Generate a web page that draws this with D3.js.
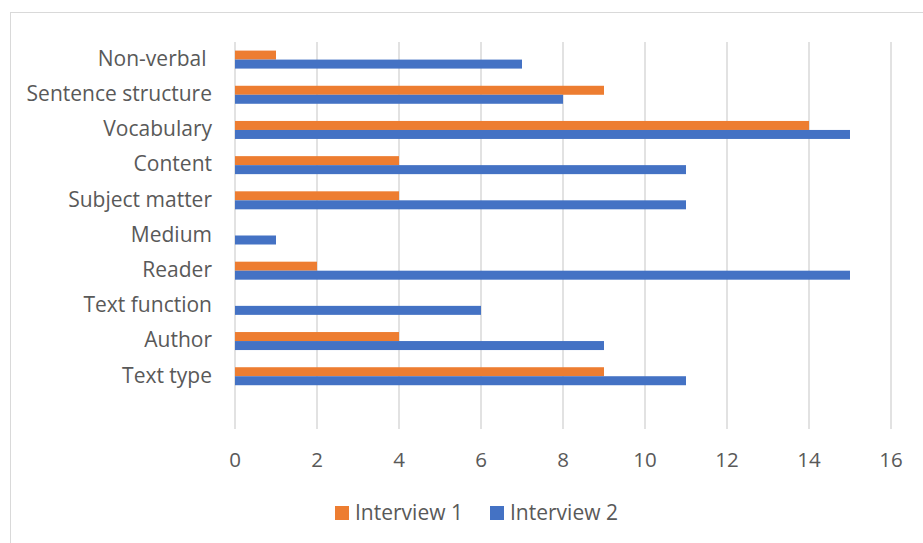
<!DOCTYPE html>
<html>
<head>
<meta charset="utf-8">
<script src="https://cdn.jsdelivr.net/npm/d3@7"></script>
<style>
  body { margin:0; background:#fff; }
  text { font-family: "Open Sans", Lato, sans-serif; fill:#595959; }
</style>
</head>
<body>
<svg id="chart" width="923" height="543"></svg>
<script>
// categories top to bottom (last one is the empty slot Excel leaves)
var categories = ["Non-verbal ", "Sentence structure", "Vocabulary", "Content",
  "Subject matter", "Medium", "Reader", "Text function", "Author", "Text type", ""];
var interview1 = [1, 9, 14, 4, 4, 0, 2, 0, 4, 9, null];
var interview2 = [7, 8, 15, 11, 11, 1, 15, 6, 9, 11, null];
var seriesNames = ["Interview 1", "Interview 2"];
var seriesColors = ["#ED7D31", "#4472C4"];
var xTicks = [0, 2, 4, 6, 8, 10, 12, 14, 16];

var svg = d3.select("#chart");

//frame around the chart
svg.append("rect")
  .attr("x", 10.5).attr("y", 12.5)
  .attr("width", 1000).attr("height", 1000)
  .attr("fill", "none").attr("stroke", "#d9d9d9");

var plot = {left:235, right:891, top:42, bottom:429};

var xScale = d3.scaleLinear().domain([0, 16]).range([plot.left, plot.right]);
var yScale = d3.scaleBand().domain(categories).range([plot.top, plot.bottom]);
var inner = d3.scaleBand().domain(seriesNames)
  .range([(yScale.bandwidth() - 18) / 2, (yScale.bandwidth() + 18) / 2]);

//gridlines
svg.append("g")
  .selectAll("line")
  .data(xTicks)
  .enter()
  .append("line")
  .attr("x1", function(d){ return xScale(d); })
  .attr("x2", function(d){ return xScale(d); })
  .attr("y1", plot.top).attr("y2", plot.bottom)
  .attr("stroke", "#d9d9d9").attr("stroke-width", 1.5);

//tick labels
svg.append("g")
  .selectAll("text")
  .data(xTicks)
  .enter()
  .append("text")
  .attr("x", function(d){ return xScale(d); })
  .attr("y", 467)
  .attr("text-anchor", "middle")
  .attr("font-size", 20.5)
  .text(function(d){ return d; });

//category labels
svg.append("g")
  .selectAll("text")
  .data(categories)
  .enter()
  .append("text")
  .attr("x", 212)
  .attr("y", function(d){ return yScale(d) + yScale.bandwidth() / 2 - 1; })
  .attr("dy", "0.35em")
  .attr("text-anchor", "end")
  .attr("font-size", 21)
  .style("white-space", "pre")
  .text(function(d){ return d; });

//bars
var series = [interview1, interview2];
series.forEach(function(values, s)
{
  svg.append("g")
    .selectAll("rect")
    .data(categories.map(function(c, i){ return {cat:c, v:values[i]}; })
      .filter(function(d){ return d.v; }))
    .enter()
    .append("rect")
    .attr("x", xScale(0))
    .attr("y", function(d){ return yScale(d.cat) + inner(seriesNames[s]); })
    .attr("width", function(d){ return xScale(d.v) - xScale(0); })
    .attr("height", inner.bandwidth())
    .attr("fill", seriesColors[s]);
});

//legend
var legendX = [335, 490];
var legend = svg.append("g");
seriesNames.forEach(function(name, s)
{
  legend.append("rect")
    .attr("x", legendX[s]).attr("y", 506)
    .attr("width", 14).attr("height", 14)
    .attr("fill", seriesColors[s]);
  legend.append("text")
    .attr("x", legendX[s] + 20).attr("y", 520)
    .attr("font-size", 21)
    .text(name);
});
</script>
</body>
</html>
